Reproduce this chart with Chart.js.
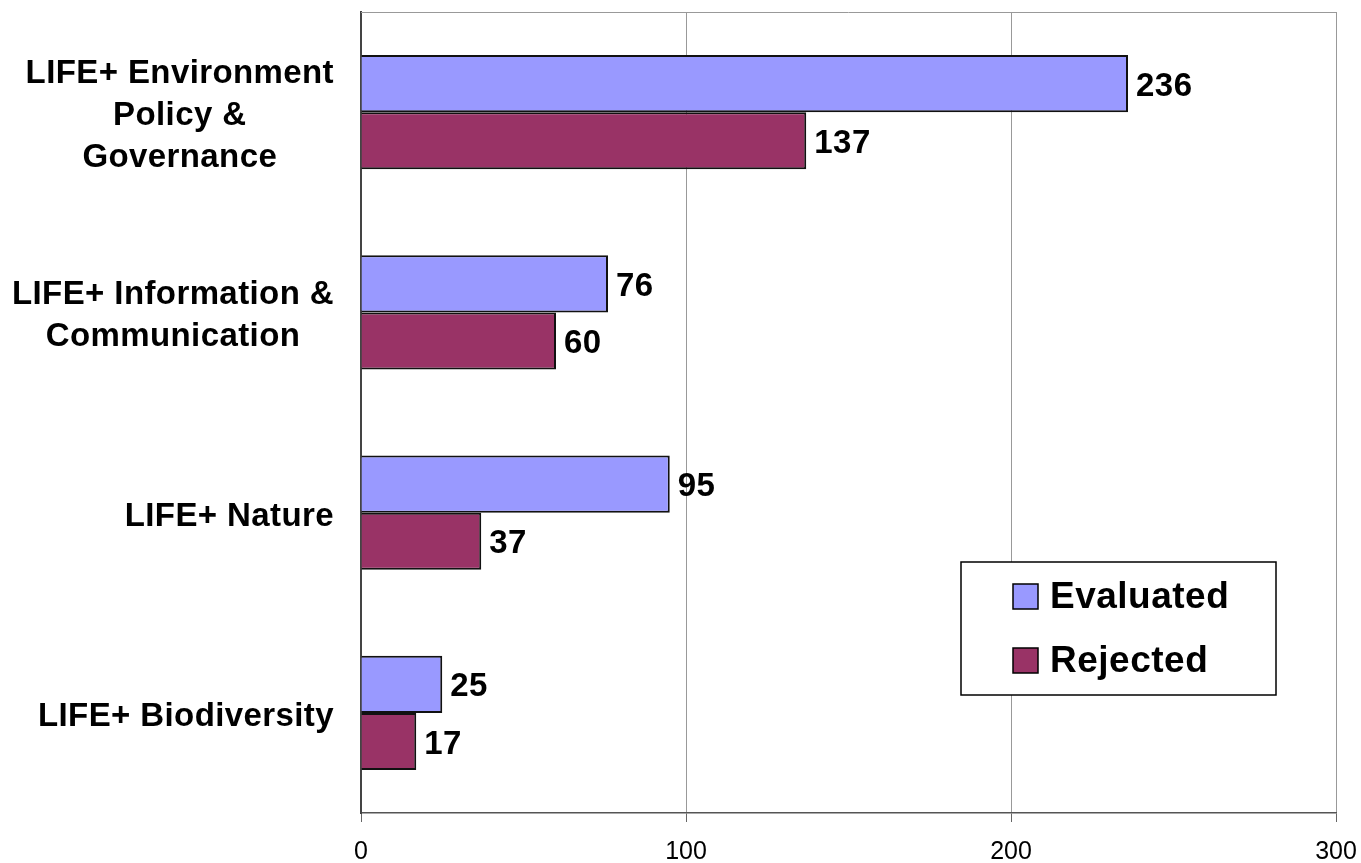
<!DOCTYPE html>
<html>
<head>
<meta charset="utf-8">
<script src="https://cdn.jsdelivr.net/npm/chart.js@4.4.0/dist/chart.umd.min.js"></script>
<style>
  html, body { margin: 0; padding: 0; background: #fff; }
  #wrap { width: 1361px; height: 863px; }
</style>
</head>
<body>
<div id="wrap"><canvas id="c"></canvas></div>
<script>
const categories = [
  ['LIFE+ Environment', 'Policy &', 'Governance'],
  ['LIFE+ Information &', 'Communication'],
  ['LIFE+ Nature'],
  ['LIFE+ Biodiversity']
];
const evaluated = [236, 76, 95, 25];
const rejected = [137, 60, 37, 17];
const xTicks = [0, 100, 200, 300];

const FONT = '"Liberation Sans", Arial, sans-serif';

// category labels: each block right-aligned, lines centred inside the block
const catLabels = {
  id: 'catLabels',
  afterDraw(chart) {
    const ctx = chart.ctx, y = chart.scales.y;
    ctx.save();
    ctx.font = 'bold 33px ' + FONT;
    ctx.letterSpacing = '0.4px';
    ctx.fillStyle = '#000';
    ctx.textAlign = 'center';
    ctx.textBaseline = 'middle';
    categories.forEach((lines, i) => {
      const w = Math.max(...lines.map(l => ctx.measureText(l).width));
      const cx = 334 - w / 2;
      const cy = y.getPixelForValue(i) + 4;
      lines.forEach((l, j) => {
        ctx.fillText(l, cx, cy + (j - (lines.length - 1) / 2) * 42);
      });
    });
    ctx.letterSpacing = '0px';
    ctx.restore();
  }
};

// value labels at the end of each bar
const valueLabels = {
  id: 'valueLabels',
  afterDatasetsDraw(chart) {
    const ctx = chart.ctx;
    ctx.save();
    ctx.font = 'bold 33px ' + FONT;
    ctx.letterSpacing = '0.5px';
    ctx.fillStyle = '#000';
    ctx.textAlign = 'left';
    ctx.textBaseline = 'middle';
    chart.data.datasets.forEach((ds, di) => {
      chart.getDatasetMeta(di).data.forEach((bar, i) => {
        ctx.fillText(ds.data[i], bar.x + 8, bar.y + 3);
      });
    });
    ctx.letterSpacing = '0px';
    ctx.restore();
  }
};

// top border of plot area + boxed legend inside the plot
const frameAndLegend = {
  id: 'frameAndLegend',
  afterDraw(chart) {
    const ctx = chart.ctx, a = chart.chartArea;
    ctx.save();
    ctx.strokeStyle = '#999';
    ctx.lineWidth = 1;
    ctx.beginPath();
    ctx.moveTo(a.left, a.top + 0.5);
    ctx.lineTo(a.right, a.top + 0.5);
    ctx.stroke();

    // legend box
    ctx.fillStyle = '#fff';
    ctx.fillRect(961, 562, 315, 133);
    ctx.strokeStyle = '#000';
    ctx.lineWidth = 1.5;
    ctx.strokeRect(961, 562, 315, 133);
    ctx.font = 'bold 37px ' + FONT;
    ctx.letterSpacing = '0.5px';
    ctx.textAlign = 'left';
    ctx.textBaseline = 'middle';
    const rows = [584, 648];
    chart.data.datasets.forEach((ds, i) => {
      ctx.fillStyle = ds.backgroundColor;
      ctx.fillRect(1013, rows[i], 25, 25);
      ctx.strokeStyle = '#000';
      ctx.lineWidth = 1.5;
      ctx.strokeRect(1013, rows[i], 25, 25);
      ctx.fillStyle = '#000';
      ctx.fillText(ds.label, 1050, rows[i] + 14);
    });
    ctx.letterSpacing = '0px';
    ctx.restore();
  }
};

new Chart(document.getElementById('c'), {
  type: 'bar',
  data: {
    labels: categories,
    datasets: [
      { label: 'Evaluated', data: evaluated, backgroundColor: '#9999FF', borderColor: '#111', borderWidth: 2 },
      { label: 'Rejected', data: rejected, backgroundColor: '#993366', borderColor: '#111', borderWidth: 2 }
    ]
  },
  options: {
    indexAxis: 'y',
    responsive: true,
    maintainAspectRatio: false,
    animation: false,
    categoryPercentage: 0.57,
    barPercentage: 1,
    layout: { padding: { top: 12, right: 25, left: 0, bottom: 0 } },
    plugins: { legend: { display: false }, tooltip: { enabled: false } },
    scales: {
      x: {
        min: 0, max: 300,
        afterBuildTicks(s) { s.ticks = xTicks.map(v => ({ value: v })); },
        afterFit(s) { s.height = 50; s.paddingLeft = 0; s.paddingRight = 0; },
        grid: { color: '#999', lineWidth: 1, tickLength: 9, tickColor: '#666', drawTicks: true },
        border: { color: '#555', width: 1.5 },
        ticks: { font: { family: FONT, size: 25 }, color: '#000', padding: 15, maxRotation: 0 }
      },
      y: {
        grid: { display: false },
        border: { color: '#444', width: 2 },
        ticks: { display: false },
        afterFit(s) { s.width = 361; }
      }
    }
  },
  plugins: [catLabels, valueLabels, frameAndLegend]
});
</script>
</body>
</html>
